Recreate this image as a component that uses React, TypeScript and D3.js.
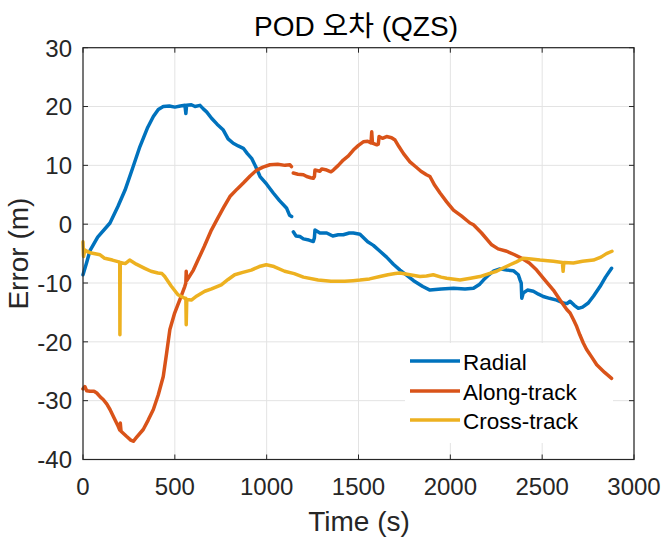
import React from "react";
import * as d3 from "d3";

const title = "POD 오차 (QZS)";
const xLabel = "Time (s)";
const yLabel = "Error (m)";
const xTicks = [0, 500, 1000, 1500, 2000, 2500, 3000];
const yTicks = [-40, -30, -20, -10, 0, 10, 20, 30];
const seriesNames = ["Radial", "Along-track", "Cross-track"];
const seriesColors = ["#0072BD", "#D95319", "#EDB120"];

const radial: [number, number][] = [
  [0,-8.6],[20,-6.5],[38,-4.5],[80,-2.2],[147,0.2],[190,3],[229,5.8],[270,9.5],[310,13.2],[350,16.3],[383,18.3],[410,19.5],[437,20.0],[470,20.1],[500,19.9],[530,20.1],[555,20.2],[560,18.8],[564,20.2],[590,20.3],[610,20.0],[637,20.2],[655,19.6],[673,19.1],[700,18.0],[730,17.0],[764,16.0],[790,14.5],[818,13.75],[845,13.3],[873,12.9],[895,12.0],[918,11.2],[940,9.8],[964,8.1],[1000,6.8],[1036,5.3],[1070,4.0],[1109,2.7],[1125,1.5],[1136,1.3],
  [NaN,NaN],
  [1145,-1.3],[1160,-2.0],[1181,-2.1],[1200,-2.5],[1230,-2.7],[1254,-2.95],[1260,-2.3],[1263,-1.0],[1290,-1.5],[1327,-1.5],[1360,-2.0],[1390,-1.8],[1417,-1.8],[1450,-1.5],[1472,-1.5],[1508,-1.7],[1550,-3.0],[1581,-3.6],[1617,-4.6],[1653,-5.6],[1690,-6.8],[1726,-7.8],[1760,-8.6],[1800,-9.6],[1850,-10.6],[1889,-11.2],[1950,-11.0],[2017,-10.9],[2080,-11.0],[2126,-10.9],[2160,-10.2],[2180,-9.5],[2210,-8.6],[2234,-8.0],[2270,-7.6],[2307,-7.8],[2343,-7.9],[2370,-8.6],[2380,-9.5],[2386,-10.0],[2389,-12.6],[2397,-11.7],[2420,-11.2],[2452,-11.4],[2480,-11.9],[2506,-12.3],[2540,-12.6],[2579,-12.9],[2615,-13.4],[2635,-13.5],[2652,-13.1],[2675,-13.8],[2697,-14.3],[2720,-14.1],[2751,-13.4],[2780,-12.2],[2815,-10.6],[2845,-9.0],[2878,-7.5]
];

const alongTrack: [number, number][] = [
  [0,-28.0],[10,-27.6],[20,-28.3],[38,-28.4],[60,-28.4],[75,-28.7],[95,-29.4],[110,-29.8],[130,-30.6],[147,-31.5],[170,-33.0],[192,-34.4],[200,-35.0],[203,-33.8],[207,-35.2],[238,-36.1],[260,-36.7],[274,-36.9],[290,-36.3],[328,-34.9],[355,-33.3],[383,-31.5],[410,-29.0],[437,-25.9],[455,-22],[473,-17.9],[499,-15.1],[530,-12.6],[554,-10.6],[560,-10.0],[562,-8.0],[565,-9.6],[601,-7.8],[626,-6.1],[660,-3.8],[699,-1.0],[728,0.7],[765,2.8],[800,4.7],[840,6.0],[873,7.0],[910,8.2],[946,9.2],[980,9.7],[1018,10.1],[1060,10.2],[1100,10.0],[1127,10.1],[1135,9.8],
  [NaN,NaN],
  [1145,8.7],[1170,8.5],[1200,8.4],[1218,8.1],[1240,7.9],[1254,7.8],[1260,8.1],[1263,9.2],[1290,9.0],[1300,9.4],[1327,9.2],[1350,8.9],[1363,9.2],[1390,10.0],[1417,10.9],[1445,11.6],[1472,12.6],[1500,13.4],[1526,14.0],[1550,14.1],[1568,13.8],[1572,15.7],[1576,13.8],[1600,13.5],[1608,13.6],[1612,14.9],[1630,14.6],[1653,14.9],[1680,14.7],[1699,14.3],[1720,13.2],[1745,12.0],[1780,10.6],[1810,9.8],[1840,9.0],[1870,8.4],[1889,8.1],[1915,6.6],[1944,5.3],[1980,3.8],[2017,2.4],[2060,1.4],[2107,0.2],[2126,-0.1],[2170,-1.5],[2225,-3.5],[2260,-4.2],[2307,-4.6],[2350,-5.2],[2389,-5.8],[2430,-6.6],[2470,-7.8],[2515,-9.5],[2561,-11.2],[2600,-13.0],[2634,-14.5],[2652,-15.1],[2670,-16.2],[2688,-17.4],[2705,-18.8],[2724,-20.2],[2742,-21.3],[2770,-22.6],[2797,-23.9],[2840,-25.2],[2878,-26.2]
];

const crossTrack: [number, number][] = [
  [0,-3.0],[3,-5.5],[10,-4.4],[20,-4.6],[45,-4.9],[93,-5.2],[118,-5.8],[160,-6.1],[195,-6.4],[200,-6.5],[201,-18.8],[203,-6.5],[230,-6.7],[254,-6.1],[290,-6.8],[336,-7.5],[370,-8.0],[408,-8.3],[430,-8.4],[445,-8.9],[480,-10.5],[517,-12.0],[554,-12.6],[560,-12.6],[562,-17.1],[565,-12.8],[590,-12.9],[620,-12.2],[663,-11.4],[700,-11.0],[753,-10.3],[790,-9.4],[826,-8.6],[870,-8.2],[916,-7.8],[960,-7.2],[998,-6.9],[1040,-7.2],[1098,-8.0],[1150,-8.4],[1200,-9.0],[1280,-9.5],[1350,-9.7],[1425,-9.7],[1470,-9.6],[1508,-9.5],[1560,-9.3],[1617,-8.9],[1660,-8.6],[1700,-8.4],[1726,-8.3],[1780,-8.6],[1835,-8.9],[1870,-8.8],[1907,-8.6],[1950,-9.0],[1980,-9.2],[2053,-9.5],[2110,-9.2],[2161,-8.9],[2210,-8.4],[2252,-8.0],[2290,-7.4],[2325,-6.9],[2360,-6.4],[2397,-5.8],[2440,-5.9],[2488,-6.1],[2530,-6.2],[2561,-6.3],[2610,-6.5],[2614,-8.0],[2618,-6.5],[2670,-6.6],[2720,-6.3],[2779,-6.1],[2820,-5.6],[2850,-5.0],[2880,-4.6]
];

const allSeries = [radial, alongTrack, crossTrack];

const W = 666, H = 539;
const L = 83, R = 634, T = 47.7, B = 459.5;
const FONT = "'Liberation Sans', Arial, 'Noto Sans CJK KR', sans-serif";
const TXT = "#262626";

export default function App() {
  const x = d3.scaleLinear().domain([0, 3000]).range([L, R]);
  const y = d3.scaleLinear().domain([-40, 30]).range([B, T]);
  const line = d3
    .line<[number, number]>()
    .defined((d) => !isNaN(d[0]))
    .x((d) => x(d[0]))
    .y((d) => y(d[1]));
  const tl = 5;
  const legY = [361, 391, 420];
  return (
    <svg width={W} height={H} style={{ position: "absolute", left: 0, top: 0, background: "#fff" }} fontFamily={FONT}>
      <rect x={0} y={0} width={W} height={H} fill="#fff" />
      {xTicks.map((t) => (
        <line key={"gx" + t} x1={x(t)} x2={x(t)} y1={T} y2={B} stroke="#e3e3e3" strokeWidth={1} />
      ))}
      {yTicks.map((t) => (
        <line key={"gy" + t} x1={L} x2={R} y1={y(t)} y2={y(t)} stroke="#e3e3e3" strokeWidth={1} />
      ))}
      <rect x={405} y={343} width={208} height={100} fill="#fff" />
      <g fill="none" strokeWidth={3.5} strokeLinejoin="round" strokeLinecap="round">
        {allSeries.map((s, i) => (
          <path key={i} d={line(s) || ""} stroke={seriesColors[i]} />
        ))}
      </g>
      {seriesNames.map((n, i) => (
        <g key={n}>
          <line x1={410} x2={460} y1={legY[i]} y2={legY[i]} stroke={seriesColors[i]} strokeWidth={3.5} />
          <text x={463} y={legY[i] + 8.5} fontSize={22.5} fill="#000">{n}</text>
        </g>
      ))}
      <rect x={L} y={T} width={R - L} height={B - T} fill="none" stroke={TXT} strokeWidth={1.2} />
      {xTicks.map((t) => (
        <g key={"tx" + t}>
          <line x1={x(t)} x2={x(t)} y1={B} y2={B - tl} stroke={TXT} />
          <line x1={x(t)} x2={x(t)} y1={T} y2={T + tl} stroke={TXT} />
          <text x={x(t)} y={495} textAnchor="middle" fontSize={24} fill={TXT}>{t}</text>
        </g>
      ))}
      {yTicks.map((t) => (
        <g key={"ty" + t}>
          <line x1={L} x2={L + tl} y1={y(t)} y2={y(t)} stroke={TXT} />
          <line x1={R} x2={R - tl} y1={y(t)} y2={y(t)} stroke={TXT} />
          <text x={72} y={y(t) + 8.8} textAnchor="end" fontSize={24} fill={TXT}>{t}</text>
        </g>
      ))}
      <text x={356} y={36} textAnchor="middle" fontSize={28} fill="#000">{title}</text>
      <text x={359} y={531} textAnchor="middle" fontSize={28} fill={TXT}>{xLabel}</text>
      <text transform={`translate(28,${(T + B) / 2}) rotate(-90)`} textAnchor="middle" fontSize={28} fill={TXT}>{yLabel}</text>
    </svg>
  );
}
